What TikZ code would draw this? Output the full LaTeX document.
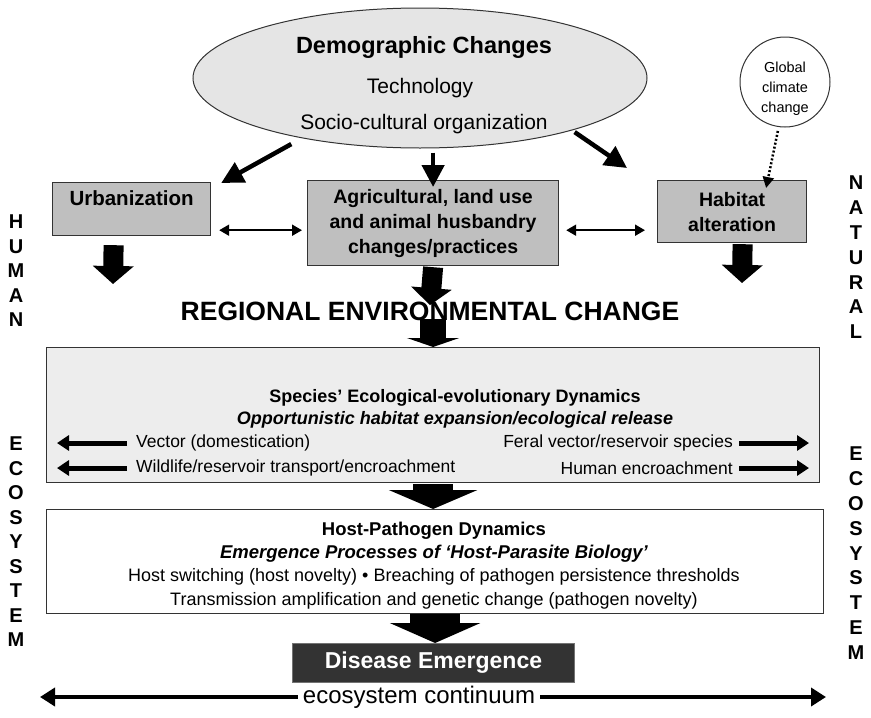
\documentclass[tikz,border=0pt]{standalone}
\usepackage{fontspec}
\setmainfont{Liberation Sans}
\usepackage{tikz}
\usetikzlibrary{arrows.meta}
\usetikzlibrary{positioning}
\usetikzlibrary{shapes.geometric}
\usetikzlibrary{calc}
\tikzstyle{greybox}=[draw=black!80,fill=black!25,line width=1.2pt,align=center,inner sep=0pt,font=\bfseries\fontsize{19.5}{25}\selectfont]
\tikzstyle{panel}=[draw=black!80,line width=1.2pt,inner sep=0pt,anchor=north west]
\tikzstyle{sideletter}=[font=\bfseries\fontsize{20}{20}\selectfont,inner sep=0pt]
\tikzstyle{rowtxt}=[inner sep=0pt,font=\fontsize{17.5}{17.5}\selectfont]
\tikzstyle{fat}=[line width=20pt,-{Triangle[length=18pt,width=40pt]}]
\tikzstyle{pointer}=[line width=4.5pt,-{Triangle[length=22pt,width=22pt]}]
\tikzstyle{twoway}=[line width=2pt,{Triangle[length=10pt,width=11pt]}-{Triangle[length=10pt,width=11pt]}]
\tikzstyle{sidearrow}=[line width=5pt,-{Triangle[length=12pt,width=15pt]}]
\tikzstyle{dotarrow}=[line width=2.5pt,dash pattern=on 2pt off 2pt,-{Triangle[length=11pt,width=11pt]}]

\begin{document}
\begin{tikzpicture}[x=1pt,y=-1pt]
\useasboundingbox (0,0) rectangle (871,718);

% drivers
\node[ellipse,draw=black!80,fill=black!10,line width=1pt,minimum width=454pt,minimum height=140pt,inner sep=0pt] (dem) at (420,78) {};
\node[font=\bfseries\fontsize{23.5}{23.5}\selectfont] (demtitle) at (424,47) {Demographic Changes};
\node[font=\fontsize{21}{21}\selectfont] (demtech) at (420,88) {Technology};
\node[font=\fontsize{21}{21}\selectfont] (demsoc) at (424,124) {Socio-cultural organization};

\node[circle,draw=black!80,fill=white,line width=1pt,minimum size=90pt,inner sep=0pt] (gcc) at (785,82) {};
\node[align=center,font=\fontsize{14.5}{20}\selectfont] (gcctxt) at (785,89) {Global\\climate\\change};

% land use boxes
\node[greybox,anchor=north west,minimum width=158pt,minimum height=53pt,text height=14pt,text depth=21pt,inner ysep=9pt,font=\bfseries\fontsize{20.5}{25}\selectfont] (urb) at (52,182) {Urbanization};
\node[greybox,anchor=north west,minimum width=251pt,minimum height=85pt] (agr) at (307,180) {Agricultural, land use\\and animal husbandry\\changes/practices};
\node[greybox,anchor=north west,minimum width=149pt,minimum height=62pt] (hab) at (657,180) {Habitat\\alteration};

\draw[pointer,shorten <=12pt] (dem.207) -- ([xshift=10pt,yshift=-1pt]urb.north east);
\draw[pointer,shorten <=4pt] (dem.south -| agr.north) -- ([yshift=-7pt]agr.north);
\draw[pointer,shorten <=3pt] (dem.341) -- ([xshift=-30pt,yshift=12pt]hab.north west);
\draw[dotarrow,shorten <=4pt] (gcc.262) -- ([xshift=34pt,yshift=-8pt]hab.north);

\draw[twoway] ($(urb.south east)+(8pt,6pt)$) -- ($(urb.south east -| agr.west)+(-5pt,6pt)$);
\draw[twoway] ($(urb.south east -| agr.east)+(7pt,6pt)$) -- ($(urb.south east -| hab.west)+(-12pt,6pt)$);

\node[font=\bfseries\fontsize{26.5}{26.5}\selectfont] (reg) at (430,311) {REGIONAL ENVIRONMENTAL CHANGE};

\coordinate (urbtip) at (113,284);
\coordinate (habtip) at (742,283);
\draw[fat] ([xshift=-18pt,yshift=-9pt]urb.south) -- (urbtip);
\draw[fat,-{Triangle[length=17pt,width=40pt]}] ([yshift=-1pt]agr.south) -- ([yshift=-7pt]reg.north);
\draw[fat] ([xshift=10.5pt,yshift=-1pt]hab.south) -- (habtip);

% species dynamics
\node[panel,fill=black!7,minimum width=773pt,minimum height=135pt] (spec) at (46,347) {};
\draw[line width=26pt,-{Triangle[length=9pt,width=52pt]}] ([yshift=5pt]reg.south -| agr.south) -- (agr.south |- spec.north);
\node[font=\bfseries\fontsize{18}{18}\selectfont] (spectitle) at (455,398) {Species' Ecological-evolutionary Dynamics};
\node[font=\bfseries\itshape\fontsize{18}{18}\selectfont] (specsub) at (455,420) {Opportunistic habitat expansion/ecological release};
\node[rowtxt,anchor=west] (vec) at (136,443) {Vector (domestication)};
\node[rowtxt,anchor=west] (wild) at (136,468) {Wildlife/reservoir transport/encroachment};
\node[rowtxt,anchor=east] (feral) at (733,443) {Feral vector/reservoir species};
\node[rowtxt,anchor=east] (humenc) at (733,468) {Human encroachment};
\coordinate (vecout) at (57,443);
\coordinate (wildout) at (57,468);
\coordinate (feralout) at (809,443);
\coordinate (humout) at (809,468);
\draw[sidearrow,shorten <=9pt] (vec.west) -- (vec.west -| vecout);
\draw[sidearrow,shorten <=9pt] (wild.west) -- (wild.west -| wildout);
\draw[sidearrow,shorten <=6pt] (feral.east) -- (feral.east -| feralout);
\draw[sidearrow,shorten <=6pt] (humenc.east) -- (humenc.east -| humout);

% host-pathogen dynamics
\node[panel,fill=white,minimum width=777pt,minimum height=104pt] (host) at (46,509) {};
\draw[line width=40pt,shorten <=1pt,-{Triangle[length=19pt,width=88pt]}] (spec.south) -- (spec.south |- host.north);
\node[font=\bfseries\fontsize{18.5}{18.5}\selectfont] (hosttitle) at (434,531) {Host-Pathogen Dynamics};
\node[font=\bfseries\itshape\fontsize{18.5}{18.5}\selectfont] (hostsub) at (434,554) {Emergence Processes of `Host-Parasite Biology'};
\node[rowtxt,font=\fontsize{18}{18}\selectfont] (hostrow) at (434,577) {Host switching (host novelty) \textbullet{} Breaching of pathogen persistence thresholds};
\node[rowtxt,font=\fontsize{18}{18}\selectfont] (transrow) at (434,601) {Transmission amplification and genetic change (pathogen novelty)};

% outcome
\node[anchor=north west,fill=black!80,draw=black!55,line width=1pt,minimum width=282pt,minimum height=39pt,inner sep=0pt,text=white,font=\bfseries\fontsize{23}{23}\selectfont] (dis) at (292,643) {Disease Emergence};
\draw[line width=50pt,-{Triangle[length=20pt,width=90pt]}] (host.south) -- (host.south |- dis.north);

\node[inner xsep=5pt,font=\fontsize{24}{24}\selectfont] (eco) at (419,697) {ecosystem continuum};
\coordinate (ecoleft) at (40,698);
\coordinate (ecoright) at (826,698);
\draw[line width=4.5pt,-{Triangle[length=15pt,width=18pt]}] (eco.west) -- (eco.west -| ecoleft);
\draw[line width=4.5pt,-{Triangle[length=15pt,width=18pt]}] (eco.east) -- (eco.east -| ecoright);

% side labels
\foreach \ch [count=\i] in {H,U,M,A,N}
  \node[sideletter] (hum\i) at (16,{222+24.5*(\i-1)}) {\ch};
\foreach \ch [count=\i] in {E,C,O,S,Y,S,T,E,M}
  \node[sideletter] (leco\i) at (16,{444+24.5*(\i-1)}) {\ch};
\foreach \ch [count=\i] in {N,A,T,U,R,A,L}
  \node[sideletter] (nat\i) at (856,{183+24.8*(\i-1)}) {\ch};
\foreach \ch [count=\i] in {E,C,O,S,Y,S,T,E,M}
  \node[sideletter] (reco\i) at (856,{454+24.8*(\i-1)}) {\ch};
\end{tikzpicture}
\end{document}
